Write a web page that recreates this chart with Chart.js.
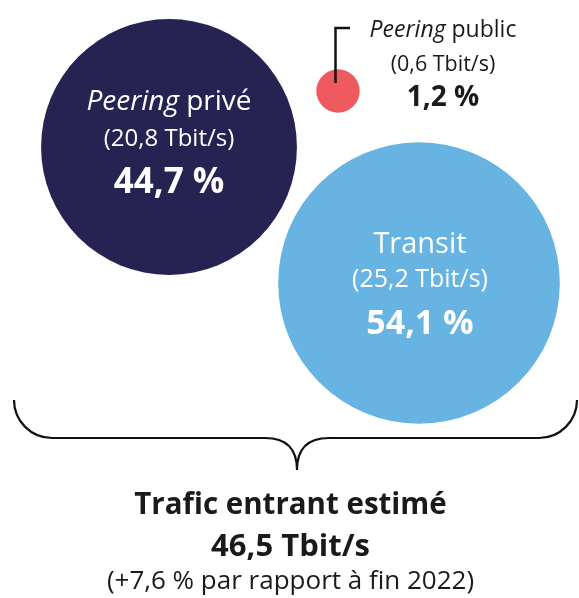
<!DOCTYPE html>
<html>
<head>
<meta charset="utf-8">
<script src="https://cdn.jsdelivr.net/npm/chart.js@4/dist/chart.umd.min.js"></script>
<style>
  html, body { margin: 0; padding: 0; background: #ffffff; }
  canvas { display: block; }
</style>
</head>
<body>
<canvas id="trafic" width="579" height="598"></canvas>
<script>
// Données du graphique
const categoriesItalique = ['Peering', '', 'Peering'];
const categoriesSuite = [' privé', 'Transit', ' public'];
const debitsTbit = [20.8, 25.2, 0.6];          // Tbit/s
const partsPourcent = [44.7, 54.1, 1.2];       // %
const totalTbit = 46.5;
const evolutionPourcent = 7.6;
const anneeReference = 2022;

// Mise en page (unités des échelles = pixels)
const centresBulles = [[169, 147], [419, 283], [338, 91]];
const couleurs = ['#262352', '#67b3e1', '#ef5a5e'];
const coefRayon = 28.05;   // rayon = coef * racine(débit), aire proportionnelle

const fmt = v => v.toFixed(1).replace('.', ',');
const police = '"Open Sans", "Noto Sans", sans-serif';

function texteMixte(ctx, italique, suite, x, y, taille, couleur) {
    ctx.fillStyle = couleur;
    ctx.font = 'italic 500 ' + taille + 'px ' + police;
    const l1 = ctx.measureText(italique).width;
    ctx.font = '500 ' + taille + 'px ' + police;
    const l2 = ctx.measureText(suite).width;
    const x0 = x - (l1 + l2) / 2;
    ctx.textAlign = 'left';
    ctx.font = 'italic 500 ' + taille + 'px ' + police;
    ctx.fillText(italique, x0, y);
    ctx.font = '500 ' + taille + 'px ' + police;
    ctx.fillText(suite, x0 + l1, y);
}

// décalage x et lignes par rapport au centre de la bulle, tailles
const etiquettesPos = [
    { dx: 0, y: [-37, -1.5, 46], tailles: [28, 24, 35], couleur: '#ffffff' },
    { dx: 1, y: [-30.5, 4, 50.5], tailles: [29, 25, 34], couleur: '#ffffff' },
    { dx: 105, y: [-54.5, -20.5, 15], tailles: [23, 21.5, 28], couleur: '#1a1a1a' }
];

const etiquettesPlugin = {
    id: 'etiquettes',
    afterDatasetsDraw(chart) {
        const ctx = chart.ctx;
        const meta = chart.getDatasetMeta(0);
        ctx.save();
        ctx.textBaseline = 'alphabetic';

        meta.data.forEach((pt, i) => {
            const p = etiquettesPos[i];
            const cx = pt.x + p.dx;
            if (i === 2) {
                // trait de rappel de la petite bulle
                ctx.strokeStyle = '#111111';
                ctx.lineWidth = 2.5;
                ctx.beginPath();
                ctx.moveTo(pt.x - 2.5, pt.y - 8);
                ctx.lineTo(pt.x - 2.5, pt.y - 63);
                ctx.lineTo(pt.x + 12, pt.y - 63);
                ctx.stroke();
            }
            texteMixte(ctx, categoriesItalique[i], categoriesSuite[i], cx, pt.y + p.y[0], p.tailles[0], p.couleur);
            ctx.textAlign = 'center';
            ctx.fillStyle = p.couleur;
            ctx.font = '400 ' + p.tailles[1] + 'px ' + police;
            ctx.fillText('(' + fmt(debitsTbit[i]) + ' Tbit/s)', cx, pt.y + p.y[1]);
            ctx.font = '700 ' + p.tailles[2] + 'px ' + police;
            ctx.fillText(fmt(partsPourcent[i]) + ' %', cx, pt.y + p.y[2]);
        });

        // accolade
        ctx.strokeStyle = '#111111';
        ctx.lineWidth = 2.2;
        ctx.beginPath();
        ctx.moveTo(14, 400);
        ctx.arcTo(14, 438, 52, 438, 38);
        ctx.lineTo(265, 438);
        ctx.quadraticCurveTo(297, 438, 297, 470);
        ctx.quadraticCurveTo(297, 438, 329, 438);
        ctx.lineTo(539, 438);
        ctx.arcTo(577, 438, 577, 400, 38);
        ctx.lineTo(577, 400);
        ctx.stroke();

        // total
        ctx.fillStyle = '#1a1a1a';
        ctx.textAlign = 'center';
        ctx.font = '700 29.5px ' + police;
        ctx.fillText('Trafic entrant estimé', 290.5, 513.5);
        ctx.font = '700 31px ' + police;
        ctx.fillText(fmt(totalTbit) + ' Tbit/s', 290.5, 556);
        ctx.font = '400 26px ' + police;
        ctx.fillText('(+' + fmt(evolutionPourcent) + ' % par rapport à fin ' + anneeReference + ')', 290.5, 589);
        ctx.restore();
    }
};

new Chart(document.getElementById('trafic').getContext('2d'), {
    type: 'bubble',
    data: {
        labels: categoriesItalique.map((c, i) => (c + categoriesSuite[i]).trim()),
        datasets: [{
            data: debitsTbit.map((v, i) => ({
                x: centresBulles[i][0],
                y: centresBulles[i][1],
                r: coefRayon * Math.sqrt(v)
            })),
            backgroundColor: couleurs,
            borderWidth: 0,
            hoverRadius: 0,
            clip: false
        }]
    },
    options: {
        responsive: false,
        animation: false,
        layout: { padding: 0, autoPadding: false },
        plugins: { legend: { display: false }, tooltip: { enabled: false } },
        scales: {
            x: { type: 'linear', min: 0, max: 579, display: false },
            y: { type: 'linear', min: 0, max: 598, reverse: true, display: false }
        }
    },
    plugins: [etiquettesPlugin]
});
</script>
</body>
</html>
